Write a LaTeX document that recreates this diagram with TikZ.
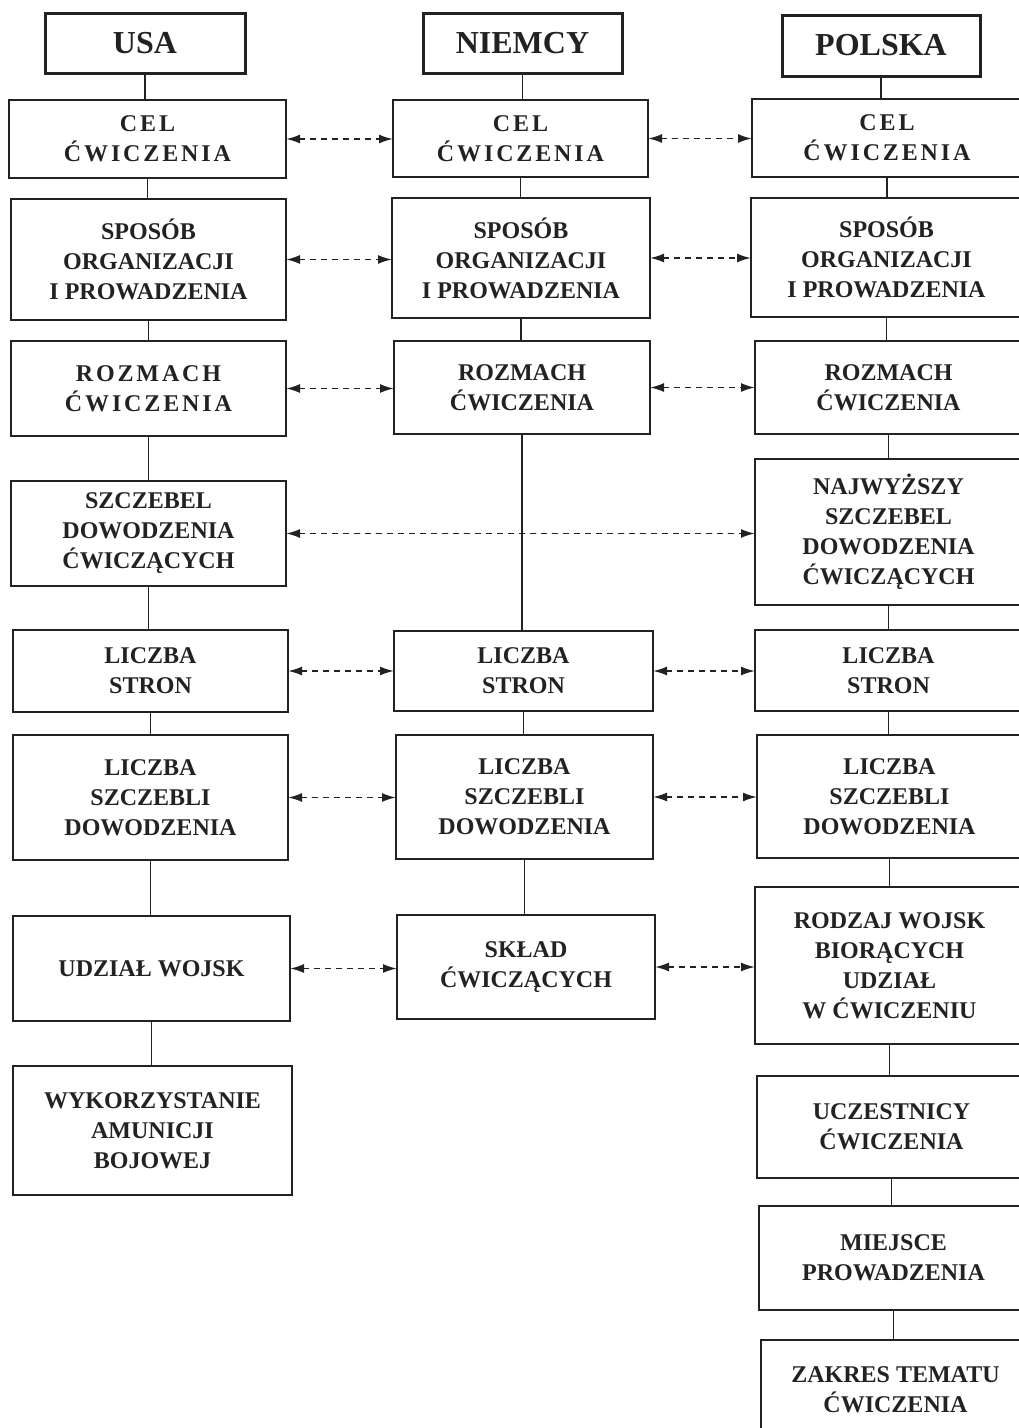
\documentclass[tikz,border=0pt]{standalone}
\usepackage{fontspec}
\setmainfont{Liberation Serif}
\newfontfamily\spacedserif[LetterSpace=12]{Liberation Serif}
\usetikzlibrary{arrows.meta}
\definecolor{ink}{HTML}{222222}

% box from corner coordinates: \boxat{name}{x1}{x2}{y1}{y2}{style}{text}
\newcommand{\boxat}[7]{%
  \pgfmathsetmacro{\bxc}{(#2+#3)/2}%
  \pgfmathsetmacro{\byc}{(#4+#5)/2}%
  \pgfmathsetmacro{\bxw}{#3-#2}%
  \pgfmathsetmacro{\byh}{#5-#4}%
  \node[#6, minimum width=\bxw pt, minimum height=\byh pt] (#1) at (\bxc,\byc) {#7};%
}

\begin{document}
\begin{tikzpicture}[x=1pt,y=-1pt,
  every node/.style={inner sep=0pt, outer sep=0pt, text=ink},
  headbox/.style={draw=ink, line width=3pt, align=center,
    font=\fontsize{32}{36}\selectfont\bfseries},
  itembox/.style={draw=ink, line width=2pt, align=center,
    font=\fontsize{24}{30}\selectfont\bfseries},
  widebox/.style={itembox, font=\fontsize{24}{30}\selectfont\spacedserif\bfseries},
  link/.style={draw=ink, line width=1.6pt},
  compare/.style={draw=ink, line width=1.8pt, dash pattern=on 6pt off 5pt,
    {Latex[length=14pt,width=9pt]}-{Latex[length=14pt,width=9pt]}}]

\useasboundingbox (0,0) rectangle (1019,1428);
\clip (0,0) rectangle (1019,1428);

% column headers
\boxat{usa}{45}{245}{13}{73}{headbox}{USA}
\boxat{nie}{423}{622}{13}{73}{headbox}{NIEMCY}
\boxat{pol}{782}{980}{15}{76}{headbox}{POLSKA}

% USA column
\boxat{cel1}{9}{286}{100}{178}{widebox}{CEL\\ĆWICZENIA}
\boxat{spo1}{11}{286}{199}{320}{itembox}{SPOSÓB\\ORGANIZACJI\\I PROWADZENIA}
\boxat{roz1}{11}{286}{341}{436}{widebox}{ROZMACH\\ĆWICZENIA}
\boxat{szc1}{11}{286}{481}{586}{itembox}{SZCZEBEL\\DOWODZENIA\\ĆWICZĄCYCH}
\boxat{lic1}{13}{288}{630}{712}{itembox}{LICZBA\\STRON}
\boxat{lsz1}{13}{288}{735}{860}{itembox}{LICZBA\\SZCZEBLI\\DOWODZENIA}
\boxat{udz1}{13}{290}{916}{1021}{itembox}{UDZIAŁ WOJSK}
\boxat{wyk1}{13}{292}{1066}{1195}{itembox}{WYKORZYSTANIE\\AMUNICJI\\BOJOWEJ}

% NIEMCY column
\boxat{cel2}{393}{648}{100}{177}{widebox}{CEL\\ĆWICZENIA}
\boxat{spo2}{392}{650}{198}{318}{itembox}{SPOSÓB\\ORGANIZACJI\\I PROWADZENIA}
\boxat{roz2}{394}{650}{341}{434}{itembox}{ROZMACH\\ĆWICZENIA}
\boxat{lic2}{394}{653}{631}{711}{itembox}{LICZBA\\STRON}
\boxat{lsz2}{396}{653}{735}{859}{itembox}{LICZBA\\SZCZEBLI\\DOWODZENIA}
\boxat{skl2}{397}{655}{915}{1019}{itembox}{SKŁAD\\ĆWICZĄCYCH}

% POLSKA column
\boxat{cel3}{752}{1022}{99}{177}{widebox}{CEL\\ĆWICZENIA}
\boxat{spo3}{751}{1022}{198}{317}{itembox}{SPOSÓB\\ORGANIZACJI\\I PROWADZENIA}
\boxat{roz3}{755}{1022}{341}{434}{itembox}{ROZMACH\\ĆWICZENIA}
\boxat{naj3}{755}{1022}{459}{605}{itembox}{NAJWYŻSZY\\SZCZEBEL\\DOWODZENIA\\ĆWICZĄCYCH}
\boxat{lic3}{755}{1022}{630}{711}{itembox}{LICZBA\\STRON}
\boxat{lsz3}{757}{1022}{735}{858}{itembox}{LICZBA\\SZCZEBLI\\DOWODZENIA}
\boxat{rod3}{755}{1024}{887}{1044}{itembox}{RODZAJ WOJSK\\BIORĄCYCH\\UDZIAŁ\\W ĆWICZENIU}
\boxat{ucz3}{757}{1026}{1076}{1178}{itembox}{UCZESTNICY\\ĆWICZENIA}
\boxat{mie3}{759}{1028}{1206}{1310}{itembox}{MIEJSCE\\PROWADZENIA}
\boxat{zak3}{761}{1030}{1340}{1440}{itembox}{ZAKRES TEMATU\\ĆWICZENIA}

% vertical links within each column
\foreach \a/\b in {usa/cel1, cel1/spo1, spo1/roz1, roz1/szc1, szc1/lic1,
                   lic1/lsz1, lsz1/udz1, udz1/wyk1,
                   nie/cel2, cel2/spo2, spo2/roz2, roz2/lic2, lic2/lsz2, lsz2/skl2,
                   pol/cel3, cel3/spo3, spo3/roz3, roz3/naj3, naj3/lic3,
                   lic3/lsz3, lsz3/rod3, rod3/ucz3, ucz3/mie3, mie3/zak3}
  \draw[link] (\a.south) -- (\a.south |- \b.north);

% dashed comparison arrows between columns
\foreach \a/\b in {cel1/cel2, cel2/cel3, spo1/spo2, spo2/spo3,
                   roz1/roz2, roz2/roz3, szc1/naj3,
                   lic1/lic2, lic2/lic3, lsz1/lsz2, lsz2/lsz3,
                   udz1/skl2, skl2/rod3}
  \draw[compare] (\a.east) -- (\a.east -| \b.west);

\end{tikzpicture}
\end{document}
